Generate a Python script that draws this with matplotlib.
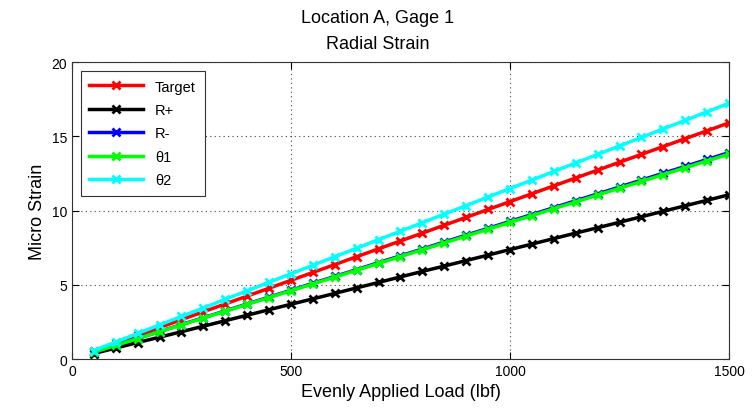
import matplotlib
matplotlib.use("Agg")
from matplotlib import pyplot as plt

plt.rcParams['font.family'] = ['Liberation Sans', 'DejaVu Sans']

# load steps (lbf)
load = [50, 100, 150, 200, 250, 300, 350, 400, 450, 500,
        550, 600, 650, 700, 750, 800, 850, 900, 950, 1000,
        1050, 1100, 1150, 1200, 1250, 1300, 1350, 1400, 1450, 1500]

target = [0.53, 1.06, 1.59, 2.12, 2.65, 3.18, 3.71, 4.24, 4.77, 5.30,
          5.83, 6.36, 6.89, 7.42, 7.95, 8.48, 9.01, 9.54, 10.07, 10.60,
          11.13, 11.66, 12.19, 12.72, 13.25, 13.78, 14.31, 14.84, 15.37, 15.90]
r_plus = [0.37, 0.74, 1.11, 1.47, 1.84, 2.21, 2.58, 2.95, 3.32, 3.69,
          4.05, 4.42, 4.79, 5.16, 5.53, 5.90, 6.26, 6.63, 7.00, 7.37,
          7.74, 8.11, 8.48, 8.84, 9.21, 9.58, 9.95, 10.32, 10.69, 11.06]
r_minus = [0.46, 0.93, 1.39, 1.85, 2.32, 2.78, 3.24, 3.71, 4.17, 4.63,
           5.10, 5.56, 6.02, 6.49, 6.95, 7.41, 7.88, 8.34, 8.80, 9.27,
           9.73, 10.19, 10.66, 11.12, 11.58, 12.05, 12.51, 12.97, 13.44, 13.90]
theta1 = [0.46, 0.92, 1.38, 1.84, 2.30, 2.76, 3.22, 3.68, 4.14, 4.60,
          5.06, 5.52, 5.98, 6.44, 6.90, 7.36, 7.82, 8.28, 8.74, 9.20,
          9.66, 10.12, 10.58, 11.04, 11.50, 11.96, 12.42, 12.88, 13.34, 13.80]
theta2 = [0.57, 1.15, 1.72, 2.30, 2.87, 3.44, 4.02, 4.59, 5.17, 5.74,
          6.31, 6.89, 7.46, 8.04, 8.61, 9.18, 9.76, 10.33, 10.91, 11.48,
          12.05, 12.63, 13.20, 13.78, 14.35, 14.92, 15.50, 16.07, 16.65, 17.22]

series = [('Target', target, '#ff0000'),
          ('R+', r_plus, '#000000'),
          ('R-', r_minus, '#0000ff'),
          ('θ1', theta1, '#00ff00'),
          ('θ2', theta2, '#00ffff')]

fig = plt.figure(figsize=(7.56, 4.14), dpi=100)
ax = fig.add_axes([0.0952, 0.1304, 0.8691, 0.7174])

for name, vals, col in series:
    ax.plot(load, vals, color=col, lw=2.5, marker='x', ms=6, mew=2, label=name)

ax.set_xlim(0, 1500)
ax.set_ylim(0, 20)
ax.set_xticks([0, 500, 1000, 1500])
ax.set_yticks([0, 5, 10, 15, 20])
ax.grid(True, linestyle=(0, (1, 3)), color='#444444', lw=0.8)
ax.tick_params(direction='in', top=True, right=True, labelsize=10, length=5)
for s in ax.spines.values():
    s.set_color('#333333')

# two-line title, placed in figure coords to match spacing
fig.text(0.5, 0.955, 'Location A, Gage 1', ha='center', va='center', fontsize=13)
fig.text(0.5, 0.893, 'Radial Strain', ha='center', va='center', fontsize=13)
ax.set_xlabel('Evenly Applied Load (lbf)', fontsize=13)
ax.set_ylabel('Micro Strain', fontsize=13)

leg = ax.legend(loc='upper left', fontsize=10.5, fancybox=False, framealpha=1,
                edgecolor='#333333', handlelength=3.7, labelspacing=0.65,
                borderpad=0.6, numpoints=1, borderaxespad=0.6)
leg.get_frame().set_linewidth(0.8)

fig.savefig('out.png', dpi=100)
